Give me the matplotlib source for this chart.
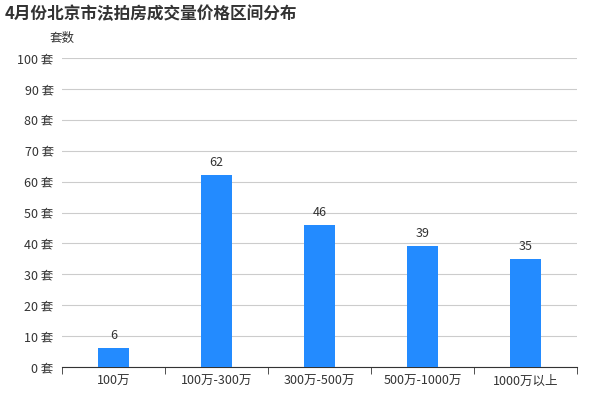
import matplotlib.pyplot as plt

plt.rcParams['font.family'] = ['Noto Sans CJK SC', 'DejaVu Sans']

categories = ['100万', '100万-300万', '300万-500万', '500万-1000万', '1000万以上']
values = [6, 62, 46, 39, 35]
yticks = list(range(0, 101, 10))

fig = plt.figure(figsize=(6, 4), dpi=100)
ax = fig.add_axes([62/600, 33/400, 515/600, 309/400])

x = range(len(categories))
ax.bar(x, values, width=0.3, color='#238bff', zorder=3)
for i, v in zip(x, values):
    ax.text(i, v + 2, str(v), ha='center', va='bottom', fontsize=9, color='#333333')

ax.set_xlim(-0.5, len(categories) - 0.5)
ax.set_ylim(0, 100)
ax.set_yticks(yticks)
ax.set_yticklabels([f'{t} 套' for t in yticks], fontsize=9, color='#333333')
ax.set_xticks(list(x))
ax.set_xticklabels(categories, fontsize=9, color='#333333')
ax.set_xticks([i - 0.5 for i in range(len(categories) + 1)], minor=True)
ax.tick_params(axis='x', which='major', length=0, pad=6)
ax.tick_params(axis='x', which='minor', length=5, color='#333333')
ax.tick_params(axis='y', length=0, pad=6)
ax.grid(axis='y', color='#cccccc', linewidth=0.8, zorder=0)
for s in ['top', 'right', 'left']:
    ax.spines[s].set_visible(False)
ax.spines['bottom'].set_color('#333333')

fig.text(5/600, 1 - 14/400, '4月份北京市法拍房成交量价格区间分布', fontsize=12,
         fontweight='bold', color='#333333', va='center')
fig.text(62/600, 1 - 38/400, '套数', fontsize=9, color='#333333', ha='center', va='center')

fig.savefig('out.png')
